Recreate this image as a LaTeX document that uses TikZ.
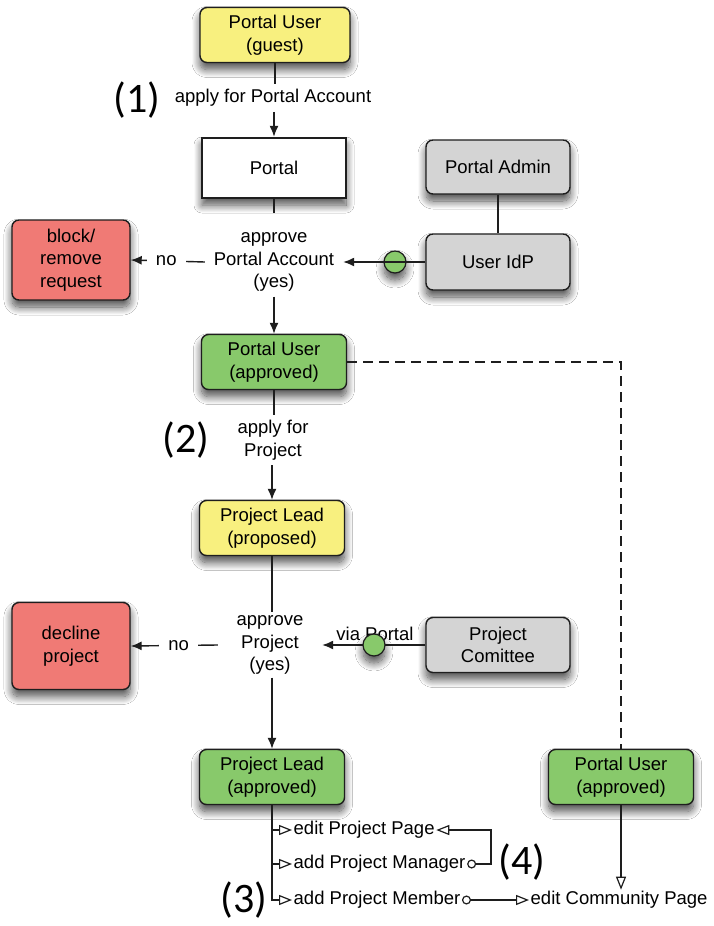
\documentclass[tikz,border=0pt]{standalone}
\usepackage{fontspec}
\setmainfont{Liberation Sans}
\newfontfamily\stepnofont{Carlito}
\usetikzlibrary{arrows.meta,shadows.blur,calc}

\definecolor{lemon}{HTML}{F8F07F}
\definecolor{leaf}{HTML}{88C96B}
\definecolor{coral}{HTML}{F07A75}
\definecolor{ash}{HTML}{D4D4D4}
\definecolor{ink}{HTML}{1E1E1E}

\newcommand\boxfont{\fontsize{18.5}{22.5}\selectfont}

\tikzset{
  softshadow/.style={blur shadow={shadow xshift=0pt, shadow yshift=-7pt,
      shadow blur radius=8pt, shadow blur steps=14, shadow opacity=70}},
  box/.style={draw=ink, line width=1.4pt, rounded corners=7pt, align=center,
    font=\boxfont, minimum width=145pt, minimum height=55pt, inner sep=2pt,
    softshadow},
  lbl/.style={font=\boxfont, align=center, fill=white, inner xsep=8pt, inner ysep=5pt},
  txt/.style={font=\boxfont, inner sep=1.5pt},
  stepno/.style={font=\stepnofont\fontsize{42}{42}\selectfont, inner sep=0pt},
  dot/.style={circle, draw=ink, line width=1.2pt, fill=leaf, minimum size=22pt,
    inner sep=0pt, softshadow},
  flow/.style={draw=ink, line width=1.4pt},
  arr/.style={flow, -{Latex[length=11pt,width=9pt]}},
  hol/.style={draw=ink, line width=1.2pt, -{Triangle[open,length=13pt,width=10pt]}},
  circhol/.style={draw=ink, line width=1.2pt,
    {Circle[open,length=9pt]}-{Triangle[open,length=13pt,width=10pt]}},
}

\begin{document}
\begin{tikzpicture}[x=1pt,y=-1pt]
\fill[white] (0,0) rectangle (713,926);
\useasboundingbox (0,0) rectangle (713,926);

% ---- step 1: portal account ----
\node[box, fill=lemon, minimum width=150pt] (guest) at (275,35) {Portal User\\(guest)};
\node[lbl] (apply1) at (273,98) {apply for Portal Account};
\node[stepno] (s1) at (137,100) {(1)};
\node[box, fill=white, rounded corners=0pt, line width=2.4pt,
      minimum width=144pt, minimum height=60pt] (portal) at (274,168) {Portal};
\node[box, fill=ash, minimum width=144pt, minimum height=54pt] (admin) at (498,167) {Portal Admin};
\node[box, fill=ash, minimum width=144pt, minimum height=56pt] (idp) at (498,262) {User IdP};
\node[box, fill=coral, minimum width=118pt, minimum height=80pt] (block) at (71,260) {block/\\remove\\request};
\node[lbl, minimum width=138pt] (apa) at (274,262) {approve\\Portal Account\\(yes)};
\node[dot] (d1) at (395,262) {};

\draw[flow] (guest.south) -- (guest.south |- apply1.north);
\draw[arr] (portal.north |- apply1.south) -- (portal.north);
\draw[flow] (admin) -- (idp);
\draw[flow] (portal.south) -- ([yshift=14pt]portal.south |- apa.north);
\draw[arr] (idp.west) -- (apa.east);
\draw[arr] (apa.west) -- node[lbl, inner xsep=9pt, inner ysep=2pt, pos=0.52] (no1) {no} (block.east);

% ---- step 2: project ----
\node[box, fill=leaf] (pua) at (274,362) {Portal User\\(approved)};
\node[lbl] (apply2) at (273,440) {apply for\\Project};
\node[stepno] (s2) at (186,440) {(2)};
\node[box, fill=lemon] (plp) at (272,528) {Project Lead\\(proposed)};
\node[box, fill=coral, minimum width=118pt, minimum height=87pt] (decline) at (71,646) {decline\\project};
\node[lbl, minimum width=104pt, inner ysep=3pt] (app) at (270,645) {approve\\Project\\(yes)};
\node[box, fill=ash, minimum width=144pt] (comm) at (498,645) {Project\\Comittee};
\node[box, fill=leaf] (pla) at (272,777) {Project Lead\\(approved)};
\node[box, fill=leaf] (pur) at (621,777) {Portal User\\(approved)};

\draw[arr] (apa.south -| pua.north) -- (pua.north);
\draw[flow] (pua.south) -- (pua.south |- apply2.north);
\draw[arr] (apply2.south -| plp.north) -- (plp.north);
\draw[flow] (plp.south) -- (plp.south |- app.north);
\draw[arr] (app.south -| pla.north) -- (pla.north);
\draw[arr] (app.west) -- node[lbl, inner xsep=9pt, inner ysep=2pt, pos=0.45] (no2) {no} (decline.east);
\draw[arr] (comm.west) -- (app.east);
\node[txt, anchor=base] (via) at (375,640) {via Portal};
\node[dot] (d2) at (374,645) {};
\draw[flow, line width=1.8pt, dash pattern=on 10pt off 6pt] (pua.east) -| (pur.north);

% ---- steps 3 and 4: rights of the project lead ----
\node[txt, anchor=west] (page) at (292,830) {edit Project Page};
\node[txt, anchor=west] (mgr) at (292,864) {add Project Manager};
\node[txt, anchor=west] (member) at (292,900) {add Project Member};
\node[txt, anchor=west] (community) at (529,900) {edit Community Page};
\node[stepno] (s3) at (244,900) {(3)};
\node[stepno] (s4) at (522,862) {(4)};
\coordinate (k4) at (491,850);

\draw[hol] (pla.south) |- (member.west);
\draw[hol] (pla.south |- page.west) -- (page.west);
\draw[hol] (pla.south |- mgr.west) -- (mgr.west);
\draw[circhol] (mgr.east) -- (mgr.east -| k4) -- (page.east -| k4) -- (page.east);
\draw[circhol] (member.east) -- (community.west);
\draw[hol] (pur.south) -- (pur.south |- community.north);
\end{tikzpicture}
\end{document}
